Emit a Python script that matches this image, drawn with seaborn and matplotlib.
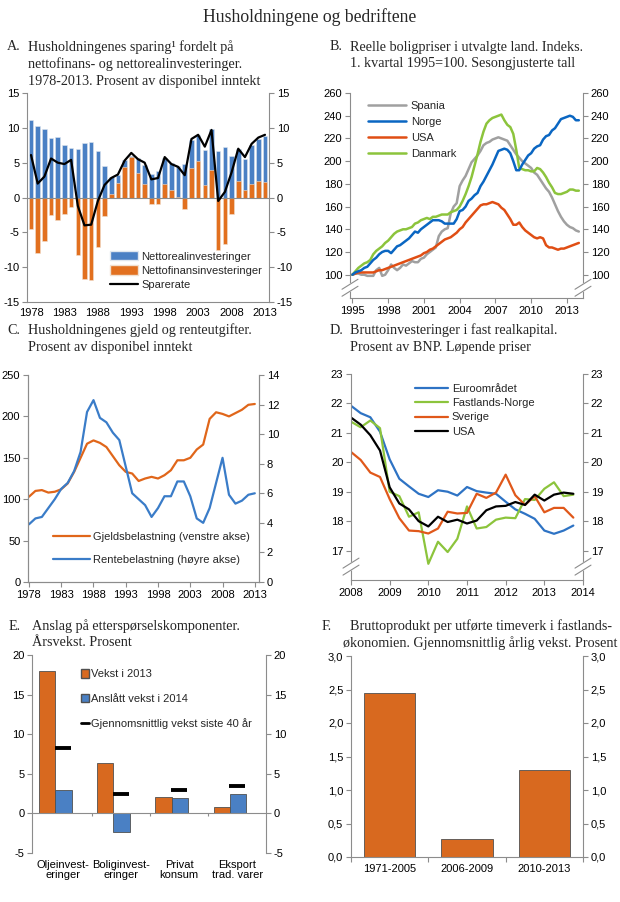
import numpy as np
import pandas as pd
import seaborn as sns
import matplotlib
matplotlib.use('Agg')
import matplotlib.pyplot as plt
from matplotlib.patches import Patch
from matplotlib.lines import Line2D
from matplotlib.ticker import FuncFormatter

# ---------------- data ----------------
# A. Sparing, prosent av disponibel inntekt
years_a = np.arange(1978, 2014)
realinv = [11.1, 10.3, 9.9, 8.6, 8.7, 7.6, 7.1, 7.0, 7.8, 8.0, 6.7, 4.5,
           2.4, 1.2, 1.0, 0.2, 2.1, 2.7, 3.4, 3.8, 3.7, 3.9, 4.4, 4.8,
           3.9, 3.7, 5.0, 5.8, 6.7, 7.2, 5.9, 4.7, 4.4, 5.7, 6.1, 6.6]
finansinv = [-4.5, -8.0, -6.2, -2.5, -3.3, -2.4, -1.4, -8.2, -11.7, -11.8, -7.1, -2.6,
             0.5, 2.1, 4.4, 5.8, 3.5, 2.0, -0.9, -0.9, 2.0, 1.1, 0.1, -1.6,
             4.3, 5.2, 1.8, 4.0, -7.5, -6.7, -2.3, 2.3, 1.1, 1.9, 2.3, 2.2]
sparerate = [6.1, 2.0, 3.0, 5.6, 5.0, 4.8, 5.4, -1.2, -4.0, -3.9, -0.5, 1.8,
             2.8, 3.3, 5.3, 6.4, 5.5, 5.0, 2.6, 2.8, 5.8, 4.8, 4.4, 3.2,
             8.4, 9.0, 7.3, 9.7, -0.5, 0.8, 3.6, 7.0, 5.8, 7.7, 8.6, 9.0]

# B. Reelle boligpriser, kvartalstall, 1. kv. 1995 = 100
kvartal_b = 1995 + 0.25 * np.arange(77)
spania = [100, 101, 101, 100, 100, 99, 99, 99, 104, 106, 99, 100,
          104, 109, 106, 104, 106, 109, 108, 110, 112, 111, 111, 114,
          115, 118, 120, 122, 124, 134, 138, 140, 141, 154, 160, 163,
          178, 183, 187, 193, 199, 202, 205, 209, 214, 216, 217, 219,
          220, 221, 220, 219, 218, 214, 210, 206, 203, 200, 198, 196,
          194, 190, 188, 184, 180, 176, 173, 168, 162, 156, 151, 147,
          144, 142, 141, 139, 138]
norge = [100, 102, 103, 104, 106, 107, 110, 113, 115, 118, 120, 121,
         121, 119, 122, 125, 126, 128, 130, 132, 135, 138, 137, 140,
         142, 144, 146, 148, 148, 148, 147, 145, 145, 145, 145, 149,
         156, 157, 160, 165, 167, 170, 172, 178, 182, 187, 192, 197,
         203, 209, 210, 211, 210, 207, 200, 192, 192, 197, 201, 205,
         207, 211, 213, 214, 219, 222, 223, 227, 229, 233, 237, 238,
         239, 240, 239, 236, 236]
usa = [100, 101, 102, 102, 102, 102, 102, 102, 103, 104, 104, 105,
       106, 107, 108, 109, 110, 111, 112, 113, 114, 115, 116, 117,
       119, 120, 122, 123, 125, 127, 129, 131, 132, 133, 135, 137,
       140, 142, 146, 149, 152, 155, 158, 161, 162, 162, 163, 164,
       163, 162, 159, 157, 153, 149, 144, 144, 146, 142, 139, 137,
       135, 133, 132, 133, 132, 126, 124, 124, 123, 122, 123, 123,
       124, 125, 126, 127, 128]
danmark = [100, 103, 106, 108, 110, 111, 113, 118, 121, 123, 125, 128,
           130, 133, 136, 138, 139, 140, 140, 141, 142, 145, 146, 148,
           149, 150, 149, 151, 151, 152, 153, 153, 153, 155, 156, 157,
           160, 165, 171, 178, 186, 196, 206, 217, 226, 233, 236, 238,
           239, 240, 241, 236, 232, 230, 224, 210, 194, 193, 192, 192,
           191, 191, 194, 193, 190, 186, 181, 177, 172, 171, 171, 172,
           173, 175, 175, 174, 174]

# C. Gjeld og renteutgifter
years_c = np.arange(1978, 2014)
gjeld = [103, 110, 111, 108, 109, 112, 119, 133, 150, 167, 171, 168,
         163, 152, 141, 133, 131, 122, 125, 127, 125, 129, 135, 147,
         147, 150, 160, 166, 197, 205, 203, 200, 204, 208, 214, 215]
rente = [3.9, 4.3, 4.4, 5.0, 5.6, 6.3, 6.7, 7.5, 8.8, 11.5, 12.3, 11.1,
         10.8, 10.1, 9.6, 7.8, 6.0, 5.6, 5.2, 4.4, 5.0, 5.8, 5.8, 6.8,
         6.8, 5.8, 4.3, 4.0, 5.0, 6.7, 8.4, 5.9, 5.3, 5.5, 5.9, 6.0]

# D. Bruttoinvesteringer, kvartalstall
kvartal_d = 2008 + 0.25 * np.arange(24)
euro = [21.92, 21.67, 21.53, 21.04, 20.1, 19.44, 19.18, 18.93, 18.82, 19.05, 19.0, 18.87,
        19.16, 19.02, 18.97, 18.93, 18.66, 18.4, 18.25, 18.08, 17.68, 17.57, 17.68, 17.85]
fastlandsnorge = [21.38, 21.19, 21.42, 21.16, 19.0, 18.85, 18.15, 18.3, 16.55, 17.3, 16.95, 17.4,
                  18.5, 17.75, 17.8, 18.05, 18.12, 18.1, 18.75, 18.72, 19.1, 19.32, 18.85, 18.9]
sverige = [20.35, 20.08, 19.65, 19.5, 18.75, 18.1, 17.68, 17.66, 17.58, 17.75, 18.32, 18.26,
           18.28, 18.93, 18.79, 18.97, 19.58, 18.88, 18.55, 18.85, 18.3, 18.45, 18.45, 18.12]
usa_d = [21.52, 21.28, 20.92, 20.4, 19.15, 18.6, 18.4, 18.0, 17.82, 18.15, 17.97, 18.05,
         17.92, 18.02, 18.37, 18.5, 18.52, 18.65, 18.55, 18.9, 18.7, 18.9, 18.97, 18.93]

# E. Etterspørselskomponenter
komponenter = ['Oljeinvest-\neringer', 'Boliginvest-\neringer', 'Privat\nkonsum', 'Eksport\ntrad. varer']
vekst_2013 = [18.0, 6.4, 2.1, 0.8]
vekst_2014 = [3.0, -2.3, 2.0, 2.4]
snitt_40 = [8.3, 2.5, 3.0, 3.5]

# F. Produktivitetsvekst
perioder = ['1971-2005', '2006-2009', '2010-2013']
produktivitet = [2.45, 0.27, 1.30]

# ---------------- style ----------------
sns.set_style('white')
plt.rcParams['font.family'] = ['Liberation Sans', 'DejaVu Sans']
plt.rcParams['font.size'] = 8
plt.rcParams['axes.unicode_minus'] = False
SERIF = ['Liberation Serif', 'DejaVu Serif']
GREY = '#8c8c8c'
BLUE_BAR = '#4a80c4'
ORANGE_BAR = '#e2701f'
W, H = 620, 902

fig = plt.figure(figsize=(W / 100, H / 100), dpi=100)


def rect(l, t, r, b):
    return [l / W, 1 - b / H, (r - l) / W, (b - t) / H]


def style(ax, right=True):
    for s in ['left', 'right', 'bottom']:
        ax.spines[s].set_color(GREY)
        ax.spines[s].set_linewidth(0.8)
    ax.spines['top'].set_visible(False)
    ax.tick_params(direction='out', length=3.5, width=0.8, color=GREY,
                   labelsize=8, labelcolor='black', pad=2, bottom=True, left=True)
    if right:
        ax.tick_params(axis='y', right=True, labelright=True)
    ax.set_xlabel('')
    ax.set_ylabel('')


def break_marks(ax, yf):
    pos = ax.get_position()
    w, h = pos.width * W, pos.height * H
    dx, dy, g = 8 / w, 5 / h, 3.5 / h
    for xf in (0, 1):
        xs = [xf - dx, xf + dx]
        ax.fill([xs[0], xs[1], xs[1], xs[0]],
                [yf - dy - g, yf + dy - g, yf + dy + g, yf - dy + g],
                color='white', transform=ax.transAxes, clip_on=False, zorder=5)
        for s in (-g, g):
            ax.plot(xs, [yf - dy + s, yf + dy + s], color=GREY, lw=0.8,
                    transform=ax.transAxes, clip_on=False, zorder=6)


def panel_title(letter, xl, xt, ys, lines):
    fig.text(xl / W, 1 - ys[0] / H, letter, family=SERIF, size=10.2, va='center')
    for y, line in zip(ys, lines):
        fig.text(xt / W, 1 - y / H, line, family=SERIF, size=10.2, va='center')


fig.text(0.5, 1 - 17 / H, 'Husholdningene og bedriftene', family=SERIF,
         size=12.7, ha='center', va='center')

# ---------------- A ----------------
panel_title('A.', 7, 28, [47, 64, 81],
            ['Husholdningenes sparing¹ fordelt på',
             'nettofinans- og nettorealinvesteringer.',
             '1978-2013. Prosent av disponibel inntekt'])
ax = fig.add_axes(rect(27, 93, 269, 302))
topp = [r + max(f, 0) for r, f in zip(realinv, finansinv)]
sns.barplot(x=years_a, y=topp, native_scale=True, orient='x', width=0.68,
            color=BLUE_BAR, saturation=1, edgecolor='#dfe6ee', linewidth=0.4,
            errorbar=None, ax=ax)
sns.barplot(x=years_a, y=finansinv, native_scale=True, orient='x', width=0.68,
            color=ORANGE_BAR, saturation=1, edgecolor='#f0e0d0', linewidth=0.4,
            errorbar=None, ax=ax)
sns.lineplot(x=years_a, y=sparerate, color='black', lw=1.6, ax=ax)
ax.axhline(0, color=GREY, lw=0.8, zorder=1)
ax.set_xlim(1977.4, 2013.6)
ax.set_ylim(-15, 15)
ax.set_yticks(range(-15, 16, 5))
ax.set_xticks(range(1978, 2014, 5))
style(ax)
ax.tick_params(axis='x', length=0, pad=4)
ax.legend(handles=[Patch(facecolor=BLUE_BAR, edgecolor='#dfe6ee', label='Nettorealinvesteringer'),
                   Patch(facecolor=ORANGE_BAR, edgecolor='#f0e0d0', label='Nettofinansinvesteringer'),
                   Line2D([], [], color='black', lw=1.6, label='Sparerate')],
          loc='upper left', bbox_to_anchor=(0.325, 0.265), frameon=False, fontsize=8,
          handlelength=2.5, handleheight=0.9, labelspacing=0.35, handletextpad=0.3,
          borderaxespad=0)

# ---------------- B ----------------
panel_title('B.', 330, 350, [47, 64],
            ['Reelle boligpriser i utvalgte land. Indeks.',
             '1. kvartal 1995=100. Sesongjusterte tall'])
ax = fig.add_axes(rect(350, 93, 583, 298))
farger_b = {'Spania': '#a0a0a0', 'Norge': '#0a66c2', 'USA': '#e04e14', 'Danmark': '#8cc43c'}
df_b = pd.DataFrame({'kvartal': kvartal_b, 'Spania': spania, 'Norge': norge,
                     'USA': usa, 'Danmark': danmark})
df_b = df_b.melt(id_vars='kvartal', var_name='land', value_name='indeks')
sns.lineplot(data=df_b, x='kvartal', y='indeks', hue='land',
             hue_order=['Spania', 'USA', 'Danmark', 'Norge'], palette=farger_b,
             lw=1.8, legend=False, ax=ax)
ax.set_xlim(1994.8, 2014.35)
ax.set_ylim(79.5, 260)
ax.set_yticks(range(100, 261, 20))
ax.set_xticks(range(1995, 2014, 3))
style(ax)
break_marks(ax, 0.05)
ax.legend(handles=[Line2D([], [], color=farger_b[k], lw=1.8, label=k)
                   for k in ['Spania', 'Norge', 'USA', 'Danmark']],
          loc='upper left', bbox_to_anchor=(0.06, 0.985), frameon=False, fontsize=8,
          handlelength=3.4, labelspacing=0.55, handletextpad=0.4, borderaxespad=0)

# ---------------- C ----------------
panel_title('C.', 7, 28, [330, 347],
            ['Husholdningenes gjeld og renteutgifter.',
             'Prosent av disponibel inntekt'])
ax = fig.add_axes(rect(28, 375, 259, 582))
sns.lineplot(x=years_c, y=gjeld, color='#e0661a', lw=1.6, ax=ax)
ax.set_xlim(1977.85, 2013.65)
ax.set_ylim(0, 250)
ax.set_yticks(range(0, 251, 50))
ax.set_xticks(range(1978, 2014, 5))
style(ax, right=False)
ax2 = ax.twinx()
sns.lineplot(x=years_c, y=rente, color='#3a7cc8', lw=1.6, ax=ax2)
ax2.set_ylim(0, 14)
ax2.set_yticks(range(0, 15, 2))
style(ax2, right=False)
ax2.tick_params(axis='y', left=False, labelleft=False, right=True, labelright=True)
ax2.legend(handles=[Line2D([], [], color='#e0661a', lw=1.6, label='Gjeldsbelastning (venstre akse)'),
                    Line2D([], [], color='#3a7cc8', lw=1.6, label='Rentebelastning (høyre akse)')],
           loc='lower left', bbox_to_anchor=(0.09, 0.06), frameon=False, fontsize=8,
           handlelength=3.3, labelspacing=1.15, handletextpad=0.3, borderaxespad=0)

# ---------------- D ----------------
panel_title('D.', 330, 350, [330, 347],
            ['Bruttoinvesteringer i fast realkapital.',
             'Prosent av BNP. Løpende priser'])
ax = fig.add_axes(rect(351, 374, 583, 580))
farger_d = {'Euroområdet': '#2e73c4', 'Fastlands-Norge': '#8cc43c',
            'Sverige': '#e0581a', 'USA': '#000000'}
df_d = pd.DataFrame({'kvartal': kvartal_d, 'Euroområdet': euro,
                     'Fastlands-Norge': fastlandsnorge, 'Sverige': sverige, 'USA': usa_d})
df_d = df_d.melt(id_vars='kvartal', var_name='region', value_name='andel')
sns.lineplot(data=df_d, x='kvartal', y='andel', hue='region',
             hue_order=list(farger_d), palette=farger_d, lw=1.6, legend=False, ax=ax)
ax.set_xlim(2008, 2014)
ax.set_ylim(16, 23)
ax.set_yticks(range(17, 24))
ax.set_xticks(range(2008, 2015))
style(ax)
break_marks(ax, 0.065)
ax.legend(handles=[Line2D([], [], color=c, lw=1.6, label=k) for k, c in farger_d.items()],
          loc='upper left', bbox_to_anchor=(0.255, 0.975), frameon=False, fontsize=8,
          handlelength=3.0, labelspacing=0.4, handletextpad=0.35, borderaxespad=0)

# ---------------- E ----------------
panel_title('E.', 9, 32, [626, 643],
            ['Anslag på etterspørselskomponenter.', 'Årsvekst. Prosent'])
ax = fig.add_axes(rect(32, 655, 266, 853))
pos = np.arange(len(komponenter))
sns.barplot(x=pos - 0.27, y=vekst_2013, native_scale=True, orient='x', width=0.28,
            color='#d8691f', saturation=1, edgecolor='#505050', linewidth=0.6,
            errorbar=None, ax=ax)
sns.barplot(x=pos + 0.01, y=vekst_2014, native_scale=True, orient='x', width=0.28,
            color='#4a80c4', saturation=1, edgecolor='#505050', linewidth=0.6,
            errorbar=None, ax=ax)
ax.plot(pos, snitt_40, linestyle='none', marker='_', markersize=11, mew=2.8, color='black')
ax.axhline(0, color=GREY, lw=0.8, zorder=1)
ax.vlines(pos[:-1] + 0.5, -0.35, 0, color=GREY, lw=0.8)
ax.set_xlim(-0.53, 3.49)
ax.set_ylim(-5, 20)
ax.set_yticks(range(-5, 21, 5))
ax.set_xticks(pos)
ax.set_xticklabels(komponenter, linespacing=1.05)
style(ax)
ax.spines['bottom'].set_visible(False)
ax.tick_params(axis='x', length=0, pad=5)
ax.legend(handles=[Patch(facecolor='#d8691f', edgecolor='#505050', label='Vekst i 2013'),
                   Patch(facecolor='#4a80c4', edgecolor='#505050', label='Anslått vekst i 2014'),
                   Line2D([], [], color='black', lw=2, label='Gjennomsnittlig vekst siste 40 år')],
          loc='upper left', bbox_to_anchor=(0.19, 0.95), frameon=False, fontsize=8,
          handlelength=0.7, handleheight=0.8, labelspacing=1.3, handletextpad=0.2,
          borderaxespad=0)

# ---------------- F ----------------
panel_title('F.', 322, 350, [626, 643],
            ['Bruttoprodukt per utførte timeverk i fastlands-', ''])
fig.text(343 / W, 1 - 643 / H, 'økonomien. Gjennomsnittlig årlig vekst. Prosent',
         family=SERIF, size=10.2, va='center')
ax = fig.add_axes(rect(351, 656, 583, 857))
sns.barplot(x=perioder, y=produktivitet, width=0.66, color='#d8691f', saturation=1,
            edgecolor='#505050', linewidth=0.6, errorbar=None, ax=ax)
ax.set_xlim(-0.5, 2.5)
ax.set_ylim(0, 3)
ax.set_yticks(np.arange(0, 3.01, 0.5))
ax.yaxis.set_major_formatter(FuncFormatter(lambda v, p: f'{v:.1f}'.replace('.', ',')))
style(ax)
ax.set_xticks([-0.5, 0.5, 1.5, 2.5], minor=True)
ax.tick_params(axis='x', which='major', length=0, pad=5)
ax.tick_params(axis='x', which='minor', direction='out', length=3.5, width=0.8, color=GREY, bottom=True)

fig.savefig('out.png', dpi=100)
